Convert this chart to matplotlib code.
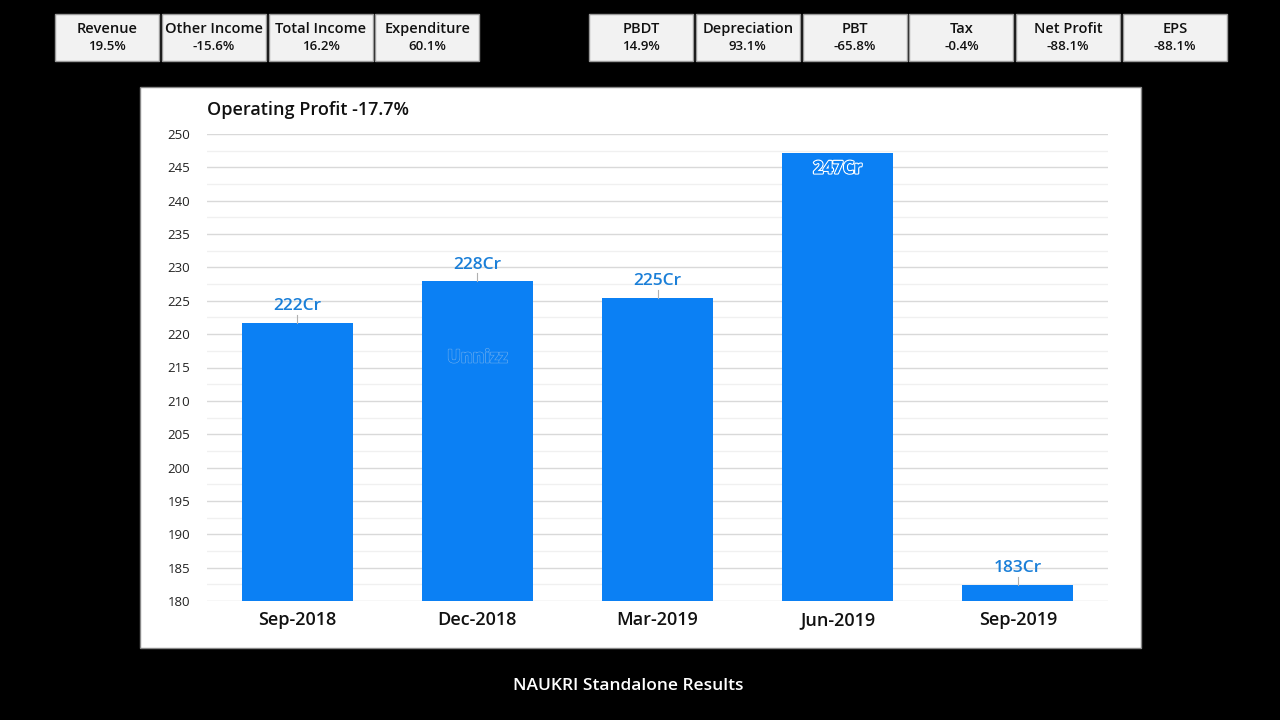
import matplotlib.pyplot as plt
import matplotlib.patheffects as pe
from matplotlib.patches import Rectangle
from matplotlib.ticker import MultipleLocator

plt.rcParams['font.family'] = ['Open Sans', 'DejaVu Sans']

# Данные
quarters = ['Sep-2018', 'Dec-2018', 'Mar-2019', 'Jun-2019', 'Sep-2019']
op_profit = [221.7, 227.9, 225.4, 247.1, 182.4]
value_labels = ['222Cr', '228Cr', '225Cr', '247Cr', '183Cr']

left_names = ['Revenue', 'Other Income', 'Total Income', 'Expenditure']
left_changes = ['19.5%', '-15.6%', '16.2%', '60.1%']
right_names = ['PBDT', 'Depreciation', 'PBT', 'Tax', 'Net Profit', 'EPS']
right_changes = ['14.9%', '93.1%', '-65.8%', '-0.4%', '-88.1%', '-88.1%']

W, H = 1280, 720
fig = plt.figure(figsize=(12.8, 7.2), dpi=100, facecolor='black')


def fx(px):
    return px / W


def fy(py):
    return 1 - py / H


# Плашки с показателями сверху
def draw_boxes(x0, names, changes, step=106.8, w=104):
    for i, (name, ch) in enumerate(zip(names, changes)):
        x = x0 + i * step
        fig.patches.append(Rectangle((fx(x), fy(61)), w / W, 47 / H,
                                     transform=fig.transFigure, zorder=-2,
                                     facecolor='#f2f2f2', edgecolor='#9a9a9a', lw=1))
        fig.text(fx(x + w / 2), fy(29), name, ha='center', va='center',
                 fontsize=10.5, color='#111111', fontweight='semibold')
        fig.text(fx(x + w / 2), fy(46), ch, ha='center', va='center',
                 fontsize=9.5, color='#111111', fontweight='semibold')


draw_boxes(55, left_names, left_changes)
draw_boxes(589, right_names, right_changes)

# Белая панель графика
fig.patches.append(Rectangle((fx(140), fy(648)), 1001 / W, 561 / H,
                             transform=fig.transFigure, zorder=-2,
                             facecolor='white', edgecolor='#888888', lw=1))

ax = fig.add_axes([fx(207), fy(601), 901 / W, 467 / H])
ax.set_zorder(1)
ax.set_facecolor('white')

x = range(len(quarters))
bar_color = '#0b80f4'
ax.bar(x, op_profit, width=0.617, color=bar_color, zorder=3)

ax.set_xlim(-0.5, 4.5)
ax.set_ylim(180, 250)
ax.yaxis.set_major_locator(MultipleLocator(5))
ax.yaxis.set_minor_locator(MultipleLocator(2.5))
ax.grid(axis='y', which='major', color='#d9d9d9', lw=1, zorder=0)
ax.grid(axis='y', which='minor', color='#f0f0f0', lw=1, zorder=0)
ax.set_xticks(list(x))
ax.set_xticklabels(quarters, fontsize=13, color='#111111',
                   fontweight='semibold', va='baseline')
ax.tick_params(axis='y', which='both', labelsize=9.5, colors='#222222',
               length=0, pad=12)
ax.tick_params(axis='x', length=0, pad=17.3)
for s in ax.spines.values():
    s.set_visible(False)

# Подписи значений
for i, (v, lab) in enumerate(zip(op_profit, value_labels)):
    if v > 245:
        ax.text(i, v - 0.9, lab, ha='center', va='top', fontsize=12.5,
                color=bar_color, fontweight='bold', zorder=5,
                path_effects=[pe.withStroke(linewidth=1.8, foreground='white'),
                              pe.Normal()])
    else:
        ax.plot([i, i], [v, v + 1.2], color='#b0b0b0', lw=0.8, zorder=4)
        ax.text(i, v + 1.3, lab, ha='center', va='bottom', fontsize=12.5,
                color='#1a7fd8', fontweight='semibold', zorder=5)

# Водяной знак
ax.text(1, 216.5, 'Unnizz', ha='center', va='center', fontsize=13,
        fontweight='bold', color=bar_color, zorder=5,
        path_effects=[pe.withStroke(linewidth=1.2, foreground='#5fa8f0'),
                      pe.Normal()])

fig.text(fx(207), fy(110), 'Operating Profit -17.7%', ha='left', va='center',
         fontsize=13, color='#111111', fontweight='semibold')

fig.text(fx(628), fy(686), 'NAUKRI Standalone Results', ha='center',
         va='center', fontsize=12.5, color='white', fontweight='semibold')

fig.savefig('out.png', dpi=100, facecolor='black')
